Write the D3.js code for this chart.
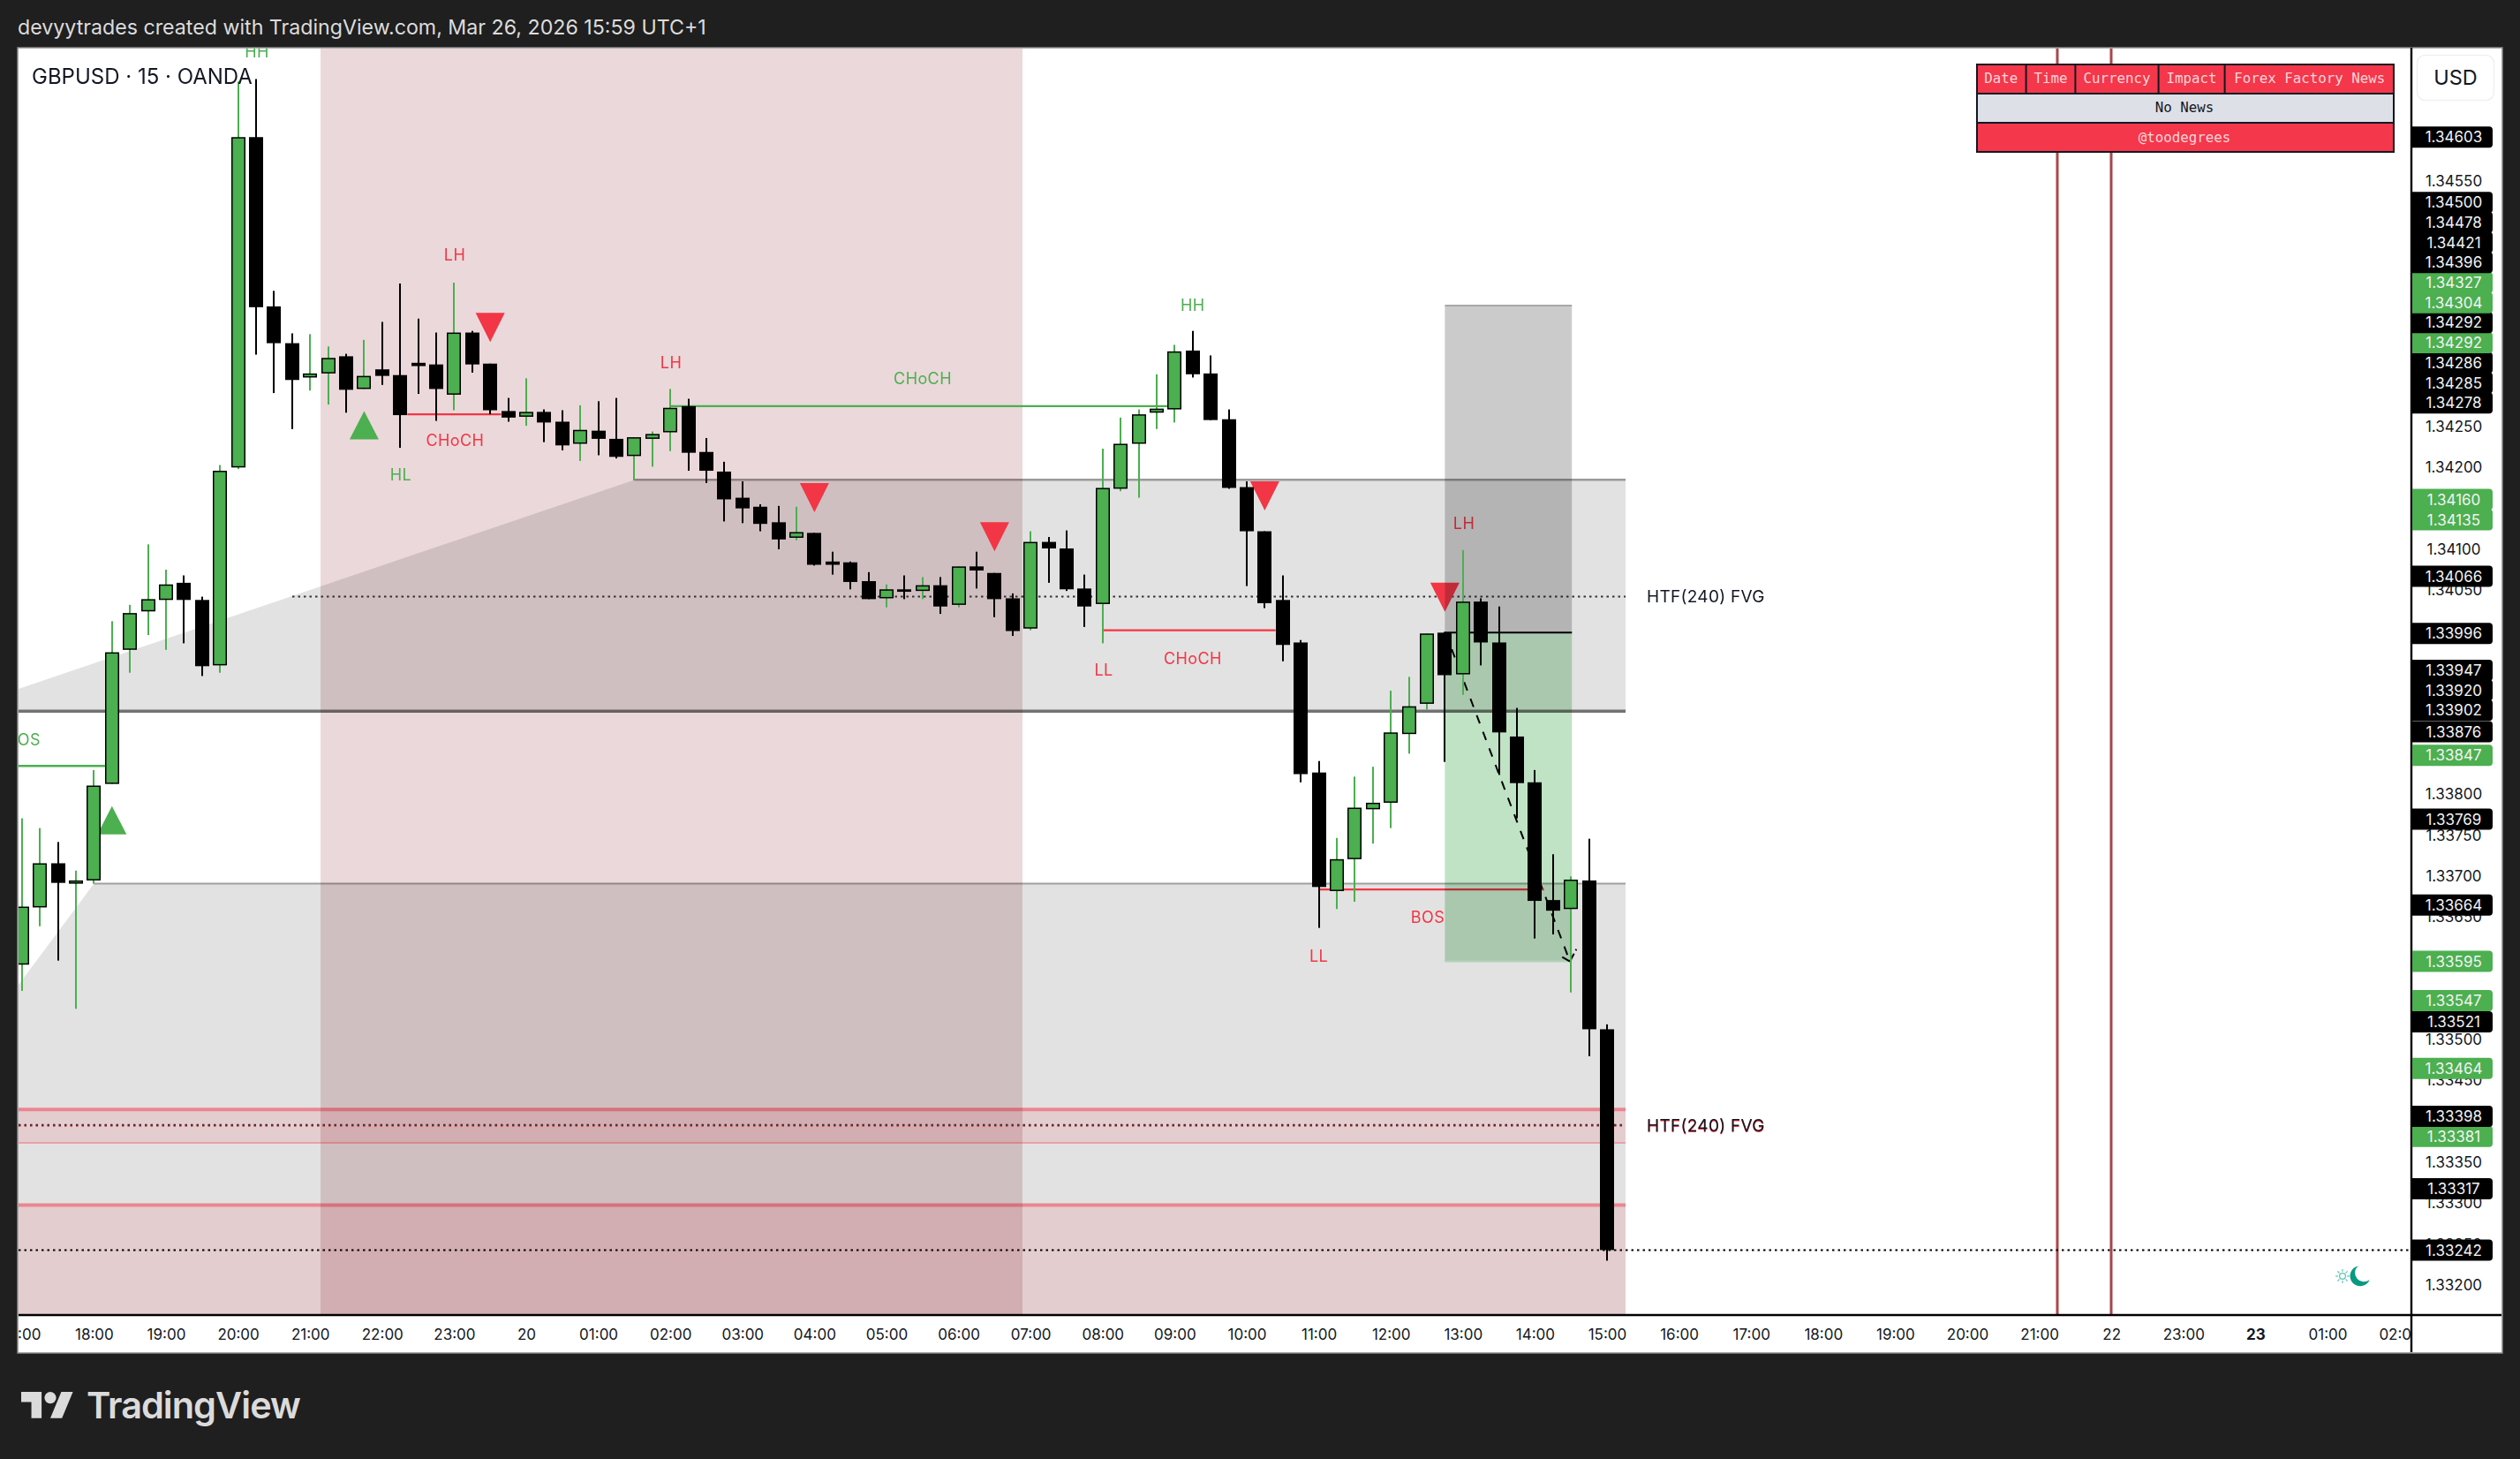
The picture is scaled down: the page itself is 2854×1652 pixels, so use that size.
<!DOCTYPE html>
<html><head><meta charset="utf-8">
<style>
html,body{margin:0;padding:0;background:#1f1f1f;overflow:hidden}
svg{display:block}
text{font-family:Inter,Roboto,sans-serif}
</style>
<script src="https://cdn.jsdelivr.net/npm/d3@7/dist/d3.min.js"></script>
</head><body><svg id="c" width="2854" height="1652"></svg>
<script>
// ---- candle data (15 min bars, 17:00 -> 15:00) ----
const opens=[1.33591,1.33661,1.33715,1.33690,1.33694,1.33812,1.33976,1.34023,1.34037,1.34058,1.34037,1.33957,1.34199,1.34603,1.34396,1.34351,1.34309,1.34314,1.34335,1.34295,1.34319,1.34312,1.34327,1.34325,1.34288,1.34364,1.34326,1.34268,1.34261,1.34267,1.34255,1.34228,1.34244,1.34234,1.34213,1.34234,1.34242,1.34274,1.34218,1.34194,1.34162,1.34151,1.34132,1.34113,1.34119,1.34084,1.34083,1.34060,1.34039,1.34050,1.34048,1.34055,1.34031,1.34078,1.34070,1.34039,1.34002,1.34108,1.34100,1.34051,1.34032,1.34173,1.34228,1.34266,1.34270,1.34342,1.34314,1.34258,1.34175,1.34121,1.34037,1.33985,1.33826,1.33681,1.33720,1.33781,1.33789,1.33873,1.33910,1.33997,1.33946,1.34035,1.33985,1.33870,1.33814,1.33670,1.33659,1.33694,1.33512];
const highs=[1.33770,1.33758,1.33741,1.33706,1.33829,1.34011,1.34031,1.34105,1.34074,1.34067,1.34041,1.34202,1.34671,1.34674,1.34415,1.34363,1.34362,1.34347,1.34338,1.34355,1.34377,1.34424,1.34381,1.34364,1.34425,1.34366,1.34326,1.34284,1.34308,1.34270,1.34269,1.34275,1.34280,1.34284,1.34236,1.34243,1.34295,1.34283,1.34235,1.34206,1.34182,1.34154,1.34152,1.34151,1.34119,1.34096,1.34084,1.34071,1.34056,1.34067,1.34065,1.34065,1.34078,1.34096,1.34070,1.34045,1.34121,1.34114,1.34122,1.34068,1.34222,1.34260,1.34270,1.34313,1.34349,1.34366,1.34336,1.34270,1.34182,1.34121,1.34067,1.33988,1.33840,1.33746,1.33821,1.33833,1.33926,1.33943,1.33996,1.33998,1.34098,1.34039,1.34029,1.33905,1.33829,1.33726,1.33699,1.33745,1.33518];
const lows=[1.33559,1.33638,1.33596,1.33537,1.33690,1.33812,1.33948,1.33994,1.33976,1.33984,1.33944,1.33948,1.34197,1.34337,1.34290,1.34246,1.34293,1.34276,1.34266,1.34295,1.34300,1.34223,1.34289,1.34256,1.34269,1.34315,1.34264,1.34255,1.34250,1.34230,1.34220,1.34207,1.34214,1.34210,1.34183,1.34200,1.34219,1.34195,1.34180,1.34133,1.34131,1.34121,1.34099,1.34110,1.34079,1.34068,1.34050,1.34038,1.34028,1.34038,1.34038,1.34020,1.34028,1.34051,1.34016,1.33993,1.34000,1.34058,1.34048,1.34004,1.33984,1.34170,1.34162,1.34246,1.34254,1.34309,1.34257,1.34173,1.34054,1.34027,1.33962,1.33814,1.33636,1.33659,1.33668,1.33739,1.33758,1.33849,1.33903,1.33839,1.33921,1.33957,1.33823,1.33770,1.33623,1.33628,1.33557,1.33479,1.33229];
const closes=[1.33662,1.33715,1.33691,1.33694,1.33810,1.33973,1.34021,1.34038,1.34056,1.34037,1.33956,1.34195,1.34603,1.34395,1.34351,1.34306,1.34314,1.34333,1.34294,1.34311,1.34311,1.34263,1.34323,1.34295,1.34364,1.34325,1.34269,1.34260,1.34267,1.34254,1.34226,1.34245,1.34234,1.34212,1.34236,1.34240,1.34272,1.34217,1.34195,1.34160,1.34149,1.34130,1.34111,1.34120,1.34080,1.34080,1.34059,1.34038,1.34050,1.34047,1.34055,1.34029,1.34078,1.34073,1.34038,1.33999,1.34108,1.34100,1.34050,1.34029,1.34174,1.34228,1.34264,1.34271,1.34341,1.34313,1.34257,1.34174,1.34121,1.34033,1.33982,1.33824,1.33686,1.33720,1.33783,1.33789,1.33875,1.33907,1.33996,1.33945,1.34035,1.33985,1.33875,1.33813,1.33669,1.33657,1.33695,1.33512,1.33242];

// ---- axes ----
const timeLabels=["17:00","18:00","19:00","20:00","21:00","22:00","23:00","20","01:00","02:00","03:00","04:00","05:00","06:00","07:00","08:00","09:00","10:00","11:00","12:00","13:00","14:00","15:00","16:00","17:00","18:00","19:00","20:00","21:00","22","23:00","23","01:00","02:00"];
const boldTimeLabels=["23"];
const barsPerLabel=4;
const priceTicks=[1.34550,1.34500,1.34450,1.34400,1.34350,1.34300,1.34250,1.34200,1.34150,1.34100,1.34050,1.34000,1.33950,1.33900,1.33850,1.33800,1.33750,1.33700,1.33650,1.33600,1.33550,1.33500,1.33450,1.33400,1.33350,1.33300,1.33250,1.33200];
const tagPrices=[1.34603,1.34500,1.34478,1.34421,1.34396,1.34327,1.34304,1.34292,1.34292,1.34286,1.34285,1.34278,1.34160,1.34135,1.34066,1.33996,1.33947,1.33920,1.33902,1.33876,1.33847,1.33769,1.33664,1.33595,1.33547,1.33521,1.33464,1.33398,1.33381,1.33317,1.33242];
const tagKinds=["b","b","b","b","b","g","g","g","b","b","b","b","g","g","b","b","b","b","b","b","g","b","b","g","g","b","g","b","g","b","b"];

// ---- annotations ----
const zoneTop=[1.34184,1.33901];       // upper FVG top / bottom
const zoneLowTop=1.33690;              // lower FVG top
const zoneSlantStart=[34.03,4];        // bars where the slanted tops meet the flat edge
const zoneRightBar=89.03;
const redBands=[[1.33414,1.33373],[1.33297,1.3300]];
const fvgMid=[1.34041,1.33395];
const sessionBars=[16.58,55.55];
const newsBars=[113,116];
const tradeBars=[79,86.05];
const tradePrices=[1.34397,1.33997,1.33595];
const lastPrice=1.33242;
const labels=[
 ["BOS",0.1,1.33866,"g"],["HH",13.05,1.34707,"g"],["LH",24.03,1.34459,"r"],["CHoCH",24.05,1.34232,"r"],
 ["HL",21.04,1.34190,"g"],["LH",36.04,1.34327,"r"],["CHoCH",50.01,1.34308,"g"],["HH",65,1.34398,"g"],
 ["LL",60.06,1.33951,"r"],["CHoCH",65,1.33966,"r"],["LH",80.06,1.34131,"r"],["BOS",78.05,1.33649,"r"],["LL",72,1.33601,"r"]];
const structLines=[[-2,5,1.33834,"g"],[21.4,26.6,1.34264,"r"],[36,64,1.34274,"g"],[60,69.6,1.34000,"r"],[72,84.5,1.33683,"r"]];
const triUp=[[19,1.34268],[5,1.33785]];
const triDown=[[26,1.34388],[44,1.34180],[54,1.34132],[69,1.34182],[79,1.34058]];
const pathBars=[79.03,85.94];
const pathPrices=[1.33997,1.33595];
const arrowWings=[[85.46,1.33601],[86.3,1.33610]];
const tableHead=["Date","Time","Currency","Impact","Forex Factory News"];

// ---- scales ----
const W=2854,H=1652,L=21,T=55,R=2731,B=1489,AR=2833,AB=1531;
const GREEN="#4caf50",RED="#f23645",INK="#131722";
const x=d3.scaleLinear().domain([0,88]).range([24.8,1820]);
const y=d3.scaleLinear().domain([1.3425,1.3320]).range([482.1,1454.3]);
const svg=d3.select("#c");
const defs=svg.append("defs");
defs.append("clipPath").attr("id","pane").append("rect").attr("x",L).attr("y",T).attr("width",R-L).attr("height",B-T);
defs.append("clipPath").attr("id","taxis").append("rect").attr("x",L).attr("y",B).attr("width",R-L).attr("height",AB-B);

svg.append("rect").attr("width",W).attr("height",H).attr("fill","#1f1f1f");
svg.append("rect").attr("x",L-1).attr("y",T-1).attr("width",AR-L+2).attr("height",AB-T+2).attr("fill","#fff").attr("stroke","#8a8a8a").attr("stroke-width",1.5);
svg.append("text").attr("x",20).attr("y",31).attr("dy","0.35em").attr("fill","#dcdcdc").attr("font-size",23.2).text("devyytrades created with TradingView.com, Mar 26, 2026 15:59 UTC+1");

const pane=svg.append("g").attr("clip-path","url(#pane)");
// news verticals
pane.selectAll(".news").data(newsBars).join("rect").attr("x",d=>Math.round(x(d))-1.5).attr("y",T).attr("width",3).attr("height",B-T).attr("fill","#a8474b");

// grey zones
const rx=x(zoneRightBar);
const zoneFill="#e2e2e2";
const poly=d3.line();
pane.append("path").attr("fill",zoneFill).attr("d",poly([[L,780],[x(zoneSlantStart[0]),y(zoneTop[0])],[rx,y(zoneTop[0])],[rx,y(zoneTop[1])],[L,y(zoneTop[1])]])+"Z");
pane.append("path").attr("fill",zoneFill).attr("d",poly([[L,1115],[x(zoneSlantStart[1]),y(zoneLowTop)],[rx,y(zoneLowTop)],[rx,B],[L,B]])+"Z");
pane.append("line").attr("x1",x(zoneSlantStart[0])).attr("x2",rx).attr("y1",y(zoneTop[0])).attr("y2",y(zoneTop[0])).attr("stroke","#9a9a9a").attr("stroke-width",2.4);
pane.append("line").attr("x1",L).attr("x2",rx).attr("y1",y(zoneTop[1])).attr("y2",y(zoneTop[1])).attr("stroke","#727272").attr("stroke-width",3.4);
pane.append("line").attr("x1",x(zoneSlantStart[1])).attr("x2",rx).attr("y1",y(zoneLowTop)).attr("y2",y(zoneLowTop)).attr("stroke","#a0a0a0").attr("stroke-width",2);
// red bands
pane.selectAll(".band").data(redBands).join("rect").attr("x",L).attr("width",rx-L).attr("y",d=>y(d[0])).attr("height",d=>y(d[1])-y(d[0])).attr("fill","rgba(244,54,72,0.12)");
pane.selectAll(".bandTop").data(redBands).join("line").attr("x1",L).attr("x2",rx).attr("y1",d=>y(d[0])).attr("y2",d=>y(d[0])).attr("stroke","#ea8690").attr("stroke-width",4);
pane.append("line").attr("x1",L).attr("x2",rx).attr("y1",y(redBands[0][1])).attr("y2",y(redBands[0][1])).attr("stroke","#eca0a8").attr("stroke-width",2);

// session
pane.append("rect").attr("x",x(sessionBars[0])).attr("width",x(sessionBars[1])-x(sessionBars[0])).attr("y",T).attr("height",B-T).attr("fill","rgb(235,216,218)").style("mix-blend-mode","multiply");

// dotted lines
const dots="2.5 4";
pane.append("line").attr("x1",331).attr("x2",rx).attr("y1",y(fvgMid[0])).attr("y2",y(fvgMid[0])).attr("stroke","#333").attr("stroke-width",2).attr("stroke-dasharray",dots);
pane.append("line").attr("x1",L).attr("x2",rx).attr("y1",y(fvgMid[1])+1).attr("y2",y(fvgMid[1])+1).attr("stroke",RED).attr("stroke-width",2).attr("stroke-dasharray",dots);
pane.append("line").attr("x1",L).attr("x2",rx).attr("y1",y(fvgMid[1])).attr("y2",y(fvgMid[1])).attr("stroke","#333").attr("stroke-width",2).attr("stroke-dasharray",dots);
pane.append("line").attr("x1",L).attr("x2",R).attr("y1",y(lastPrice)).attr("y2",y(lastPrice)).attr("stroke","#000").attr("stroke-width",2).attr("stroke-dasharray",dots);

// structure lines
const col=k=>k==="g"?GREEN:RED;
pane.selectAll(".st").data(structLines).join("line").attr("x1",d=>x(d[0])).attr("x2",d=>x(d[1])).attr("y1",d=>y(d[2])).attr("y2",d=>y(d[2])).attr("stroke",d=>col(d[3])).attr("stroke-width",2.4);
// labels
pane.selectAll(".lb").data(labels).join("text").attr("x",d=>x(d[1])).attr("y",d=>y(d[2])).attr("dy","0.36em").attr("text-anchor","middle").attr("font-size",18).attr("letter-spacing",0.4).attr("fill",d=>col(d[3])).text(d=>d[0]);
// FVG text
pane.append("text").attr("x",1865).attr("y",y(fvgMid[0])).attr("dy","0.36em").attr("font-size",19).attr("letter-spacing",0.3).attr("fill",INK).text("HTF(240) FVG");
pane.append("text").attr("x",1865).attr("y",y(fvgMid[1])+1).attr("dy","0.36em").attr("font-size",19).attr("letter-spacing",0.3).attr("fill",RED).text("HTF(240) FVG");
pane.append("text").attr("x",1865).attr("y",y(fvgMid[1])).attr("dy","0.36em").attr("font-size",19).attr("letter-spacing",0.3).attr("fill",INK).text("HTF(240) FVG");

// triangles
pane.selectAll(".tu").data(triUp).join("path").attr("d",d=>{const cx=x(d[0]),cy=y(d[1]);return poly([[cx,cy],[cx-16.5,cy+32],[cx+16.5,cy+32]])+"Z"}).attr("fill",GREEN);
pane.selectAll(".td").data(triDown).join("path").attr("d",d=>{const cx=x(d[0]),cy=y(d[1]);return poly([[cx-16.5,cy],[cx+16.5,cy],[cx,cy+33]])+"Z"}).attr("fill",RED);

// trade boxes
const bx0=x(tradeBars[0]),bx1=x(tradeBars[1]);
pane.append("rect").attr("x",bx0).attr("width",bx1-bx0).attr("y",y(tradePrices[0])).attr("height",y(tradePrices[1])-y(tradePrices[0])).attr("fill","rgb(203,203,203)").style("mix-blend-mode","multiply");
pane.append("rect").attr("x",bx0).attr("width",bx1-bx0).attr("y",y(tradePrices[1])).attr("height",y(tradePrices[2])-y(tradePrices[1])).attr("fill","rgb(192,226,197)").style("mix-blend-mode","multiply");
pane.append("line").attr("x1",bx0).attr("x2",bx1).attr("y1",y(tradePrices[0])).attr("y2",y(tradePrices[0])).attr("stroke","#a8a8a8").attr("stroke-width",2);
pane.append("line").attr("x1",bx0).attr("x2",bx1).attr("y1",y(tradePrices[2])).attr("y2",y(tradePrices[2])).attr("stroke","#b4d2b8").attr("stroke-width",2);
pane.append("line").attr("x1",bx0).attr("x2",bx1).attr("y1",y(tradePrices[1])).attr("y2",y(tradePrices[1])).attr("stroke","#000").attr("stroke-width",2);
// dashed path
pane.append("line").attr("x1",x(pathBars[0])).attr("x2",x(pathBars[1])).attr("y1",y(pathPrices[0])).attr("y2",y(pathPrices[1])).attr("stroke","#000").attr("stroke-width",2).attr("stroke-dasharray","10 10");
pane.selectAll(".wing").data(arrowWings).join("line").attr("x1",x(pathBars[1])).attr("y1",y(pathPrices[1])).attr("x2",d=>x(d[0])).attr("y2",d=>y(d[1])).attr("stroke","#000").attr("stroke-width",2).attr("stroke-dasharray","10 4");

// candles
const bars=opens.map((o,i)=>({i,o,h:highs[i],l:lows[i],c:closes[i],up:closes[i]>=o}));
const cg=pane.append("g");
cg.selectAll(".w").data(bars).join("rect").attr("x",d=>Math.round(x(d.i))-1).attr("width",2).attr("y",d=>y(d.h)).attr("height",d=>y(d.l)-y(d.h)).attr("fill",d=>d.up?GREEN:"#000");
cg.selectAll(".b").data(bars).join("rect")
 .attr("x",d=>Math.round(x(d.i))-8).attr("width",16)
 .attr("y",d=>y(Math.max(d.o,d.c))).attr("height",d=>Math.max(2,y(Math.min(d.o,d.c))-y(Math.max(d.o,d.c))))
 .attr("fill","#000");
cg.selectAll(".bi").data(bars.filter(d=>d.up)).join("rect")
 .attr("x",d=>Math.round(x(d.i))-6.5).attr("width",13)
 .attr("y",d=>y(d.c)+1.5).attr("height",d=>Math.max(0,y(d.o)-y(d.c)-3))
 .attr("fill",GREEN);

// pane title
pane.append("text").attr("x",36).attr("y",86).attr("dy","0.36em").attr("font-size",24).attr("fill","#131722").text("GBPUSD · 15 · OANDA");

// sun / moon
const mx=2672.7,my=1445;
pane.append("path").attr("fill","#089981").attr("d",`M${mx-2},${my-11.5}A11.5 11.5 0 1 0 ${mx+11},${my+4}A9.5 9.5 0 0 1 ${mx-2},${my-11.5}Z`);
const sx=2653;
pane.append("circle").attr("cx",sx).attr("cy",my).attr("r",3.4).attr("fill","none").attr("stroke","#5cc6b3").attr("stroke-width",1.3);
d3.range(8).forEach(k=>{const a=k*Math.PI/4;pane.append("line").attr("x1",sx+Math.cos(a)*5).attr("y1",my+Math.sin(a)*5).attr("x2",sx+Math.cos(a)*8).attr("y2",my+Math.sin(a)*8).attr("stroke","#5cc6b3").attr("stroke-width",1.2)});

// news table
const tbl=svg.append("g");
const tx=[2238,2294.6,2350.4,2444.6,2519.6,2712],ty=[72,106,139,173];
tbl.append("rect").attr("x",tx[0]).attr("y",ty[0]).attr("width",tx[5]-tx[0]).attr("height",ty[3]-ty[0]).attr("fill","#f4374b");
tbl.append("rect").attr("x",tx[0]).attr("y",ty[1]).attr("width",tx[5]-tx[0]).attr("height",ty[2]-ty[1]).attr("fill","#dee0e8");
tbl.append("rect").attr("x",tx[0]+1).attr("y",ty[0]+1).attr("width",tx[5]-tx[0]-2).attr("height",ty[3]-ty[0]-2).attr("fill","none").attr("stroke","#131722").attr("stroke-width",2);
ty.slice(1,3).forEach(v=>tbl.append("line").attr("x1",tx[0]).attr("x2",tx[5]).attr("y1",v).attr("y2",v).attr("stroke","#131722").attr("stroke-width",2));
tx.slice(1,5).forEach(v=>tbl.append("line").attr("x1",v).attr("x2",v).attr("y1",ty[0]).attr("y2",ty[1]).attr("stroke","#131722").attr("stroke-width",2));
const mono=s=>s.style("font-family","'DejaVu Sans Mono',monospace").attr("font-size",15.8).attr("text-anchor","middle").attr("dy","0.36em");
tbl.selectAll(".th").data(tableHead).join("text").attr("x",(d,i)=>(tx[i]+tx[i+1])/2).attr("y",88).text(d=>d).call(mono).attr("fill","#fbd5da");
tbl.append("text").attr("x",2474).attr("y",121).text("No News").call(mono).attr("fill","#131722");
tbl.append("text").attr("x",2474).attr("y",155).text("@toodegrees").call(mono).attr("fill","#fbd5da");

// time axis
const xAxis=d3.axisBottom(x).tickValues(timeLabels.map((_,i)=>i*barsPerLabel)).tickSize(0).tickPadding(0).tickFormat((d,i)=>timeLabels[i]);
const xg=svg.append("g").attr("clip-path","url(#taxis)").append("g").attr("transform",`translate(0,1511)`).call(xAxis);
xg.select(".domain").remove();
xg.selectAll("text").attr("dy","0.36em").attr("y",0).attr("font-size",17).attr("fill",INK).style("font-family","Inter,Roboto,sans-serif").each(function(d,i){if(boldTimeLabels.includes(timeLabels[i]))d3.select(this).attr("font-weight",700)});

// price axis
const yAxis=d3.axisRight(y).tickValues(priceTicks).tickSize(0).tickPadding(0).tickFormat(d3.format(".5f"));
const yg=svg.append("g").attr("transform",`translate(2779,0)`).call(yAxis);
yg.select(".domain").remove();
yg.selectAll("text").attr("x",0).attr("dy","0.36em").attr("text-anchor","middle").attr("font-size",17).attr("fill",INK).style("font-family","Inter,Roboto,sans-serif");

// frame lines over chart
svg.append("line").attr("x1",L).attr("x2",AR).attr("y1",B).attr("y2",B).attr("stroke","#000").attr("stroke-width",2.4);
svg.append("line").attr("x1",R).attr("x2",R).attr("y1",T-1).attr("y2",AB).attr("stroke","#000").attr("stroke-width",2.4);

// price tags, pushed upwards where they would collide
const gap=22.7,tagH=24;
const tags=tagPrices.map((p,i)=>({p,kind:tagKinds[i],yy:y(p)})).sort((a,b)=>b.yy-a.yy);
tags.forEach((t,i)=>{if(i&&t.yy>tags[i-1].yy-gap)t.yy=tags[i-1].yy-gap});
// equal prices keep list order, so the black 1.34292 stacks above the green one
const tagPath=t=>{const x0=2732,x1=2823,r=4,y0=t.yy-tagH/2,y1=t.yy+tagH/2;return `M${x0},${y0}H${x1-r}A${r} ${r} 0 0 1 ${x1},${y0+r}V${y1-r}A${r} ${r} 0 0 1 ${x1-r},${y1}H${x0}Z`};
const tagG=svg.append("g");
tagG.selectAll("path").data(tags).join("path").attr("d",tagPath).attr("fill",d=>d.kind==="g"?GREEN:"#000");
tagG.selectAll("text").data(tags).join("text").attr("x",2779).attr("y",d=>d.yy).attr("dy","0.36em").attr("text-anchor","middle").attr("font-size",17).attr("fill","#f2f2f2").text(d=>d.p.toFixed(5));

// USD button
svg.append("rect").attr("x",2737.5).attr("y",62.5).attr("width",87).attr("height",51).attr("rx",9).attr("fill","#fff").attr("stroke","#f0f0f0").attr("stroke-width",1.5);
svg.append("text").attr("x",2781).attr("y",87.5).attr("dy","0.36em").attr("text-anchor","middle").attr("font-size",23.5).attr("fill","#131722").text("USD");

// logo
svg.append("g").attr("transform","translate(24,1569.4) scale(1.65)").attr("fill","#dbdbdb").call(g=>{
 g.append("path").attr("d","M14 22H7V11H0V4h14v18zM28 22h-8l7.5-18h8L28 22z");
 g.append("circle").attr("cx",20).attr("cy",8).attr("r",4);
});
svg.append("text").attr("x",98).attr("y",1606).attr("font-size",41.5).attr("font-weight",600).attr("letter-spacing",-1).attr("fill","#dbdbdb").text("TradingView");
</script></body></html>
